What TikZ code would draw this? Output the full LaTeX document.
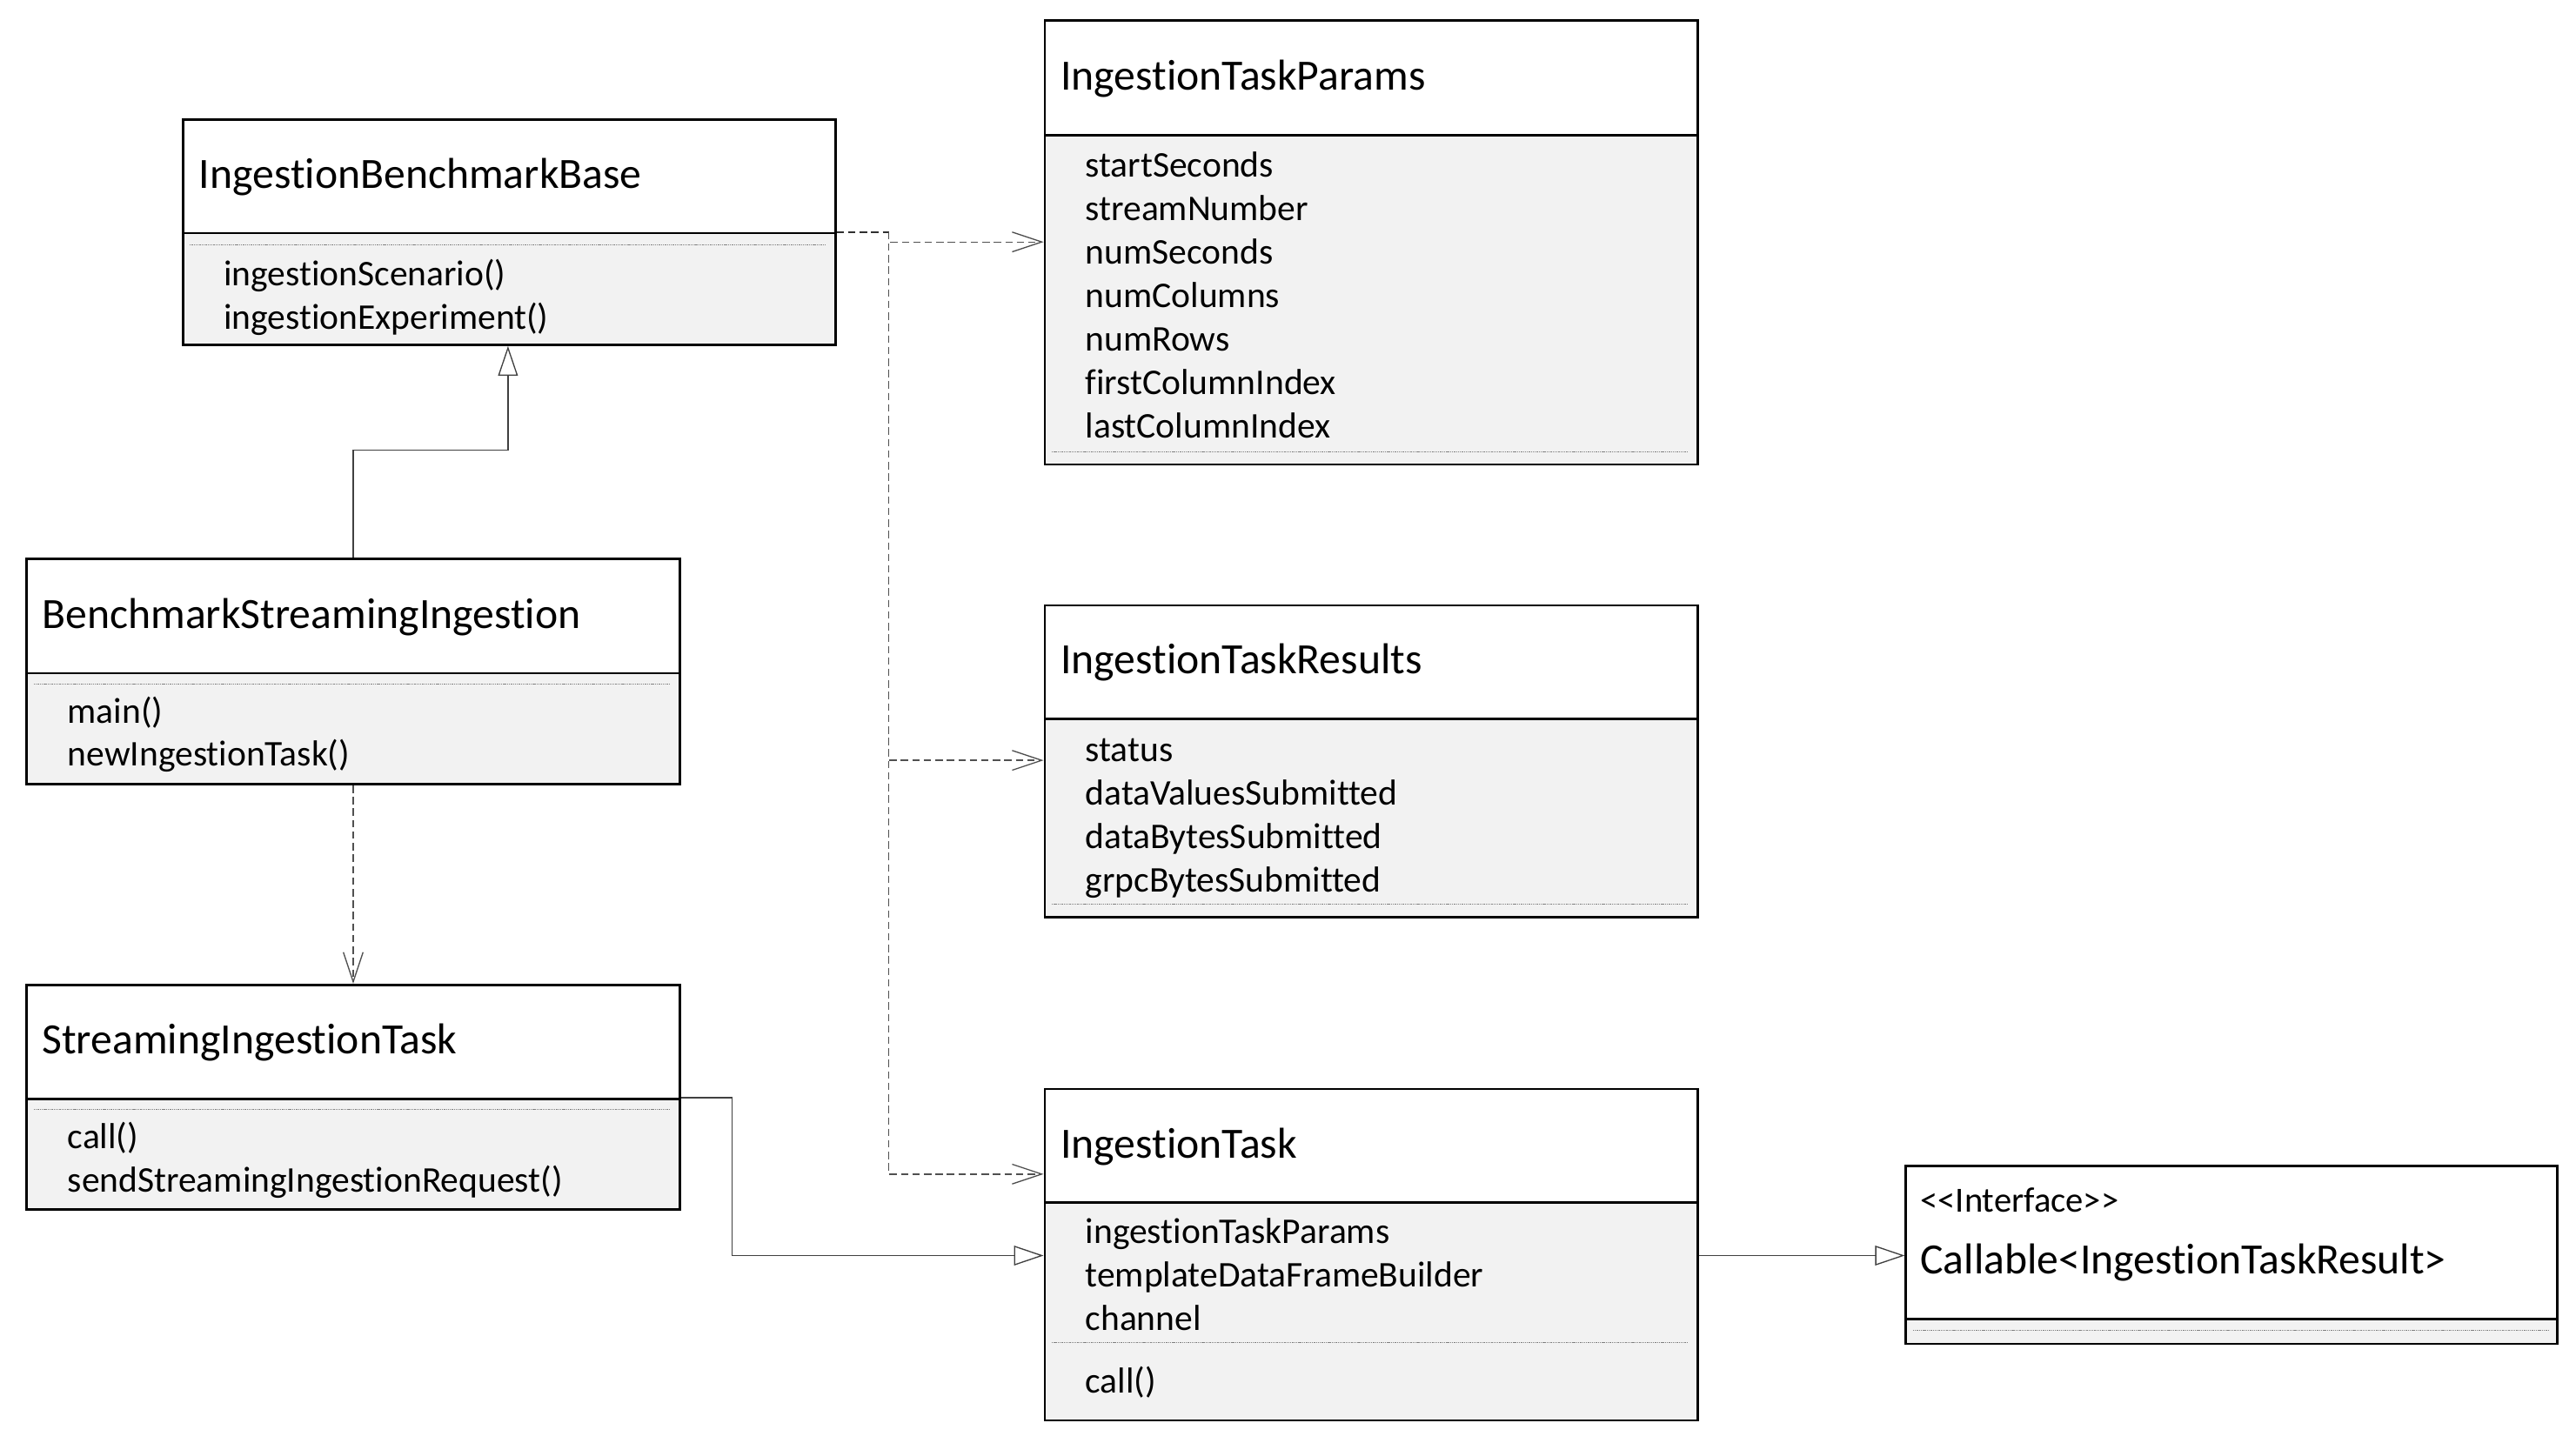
\documentclass[tikz,border=0pt]{standalone}
\usepackage{fontspec}
\setmainfont{Carlito}[Ligatures={NoCommon}]
\usetikzlibrary{arrows.meta}
\definecolor{bodyfill}{HTML}{F2F2F2}
\definecolor{conn}{HTML}{404040}
\definecolor{dconn}{HTML}{505050}
\tikzset{
  hdr/.style={draw=black, line width=1.5pt, fill=white, inner sep=0pt, anchor=north west, minimum width=397.3pt},
  bdy/.style={draw=black, line width=1.5pt, fill=bodyfill, inner sep=0pt, anchor=north west, minimum width=397.3pt},
  ttl/.style={anchor=mid west, inner sep=0pt, yshift=-5.5pt, font=\fontsize{26.3}{30}\selectfont},
  itm/.style={anchor=mid west, inner sep=0pt, yshift=-5.5pt, font=\fontsize{22}{26}\selectfont},
  stereo/.style={anchor=mid west, inner sep=0pt, yshift=-4.5pt, font=\fontsize{21.5}{24}\selectfont},
  dotsep/.style={draw=gray, line width=0.4pt, dash pattern=on 0.7pt off 0.5pt},
  gen/.style={draw=conn, line width=0.7pt, -{Triangle[open, fill=white, length=18pt, width=12pt]}},
  dep/.style={draw=dconn, line width=0.7pt, dash pattern=on 4.5pt off 2.5pt, -{Straight Barb[length=18pt, width=12pt]}},
  depline/.style={draw=dconn!60!black, line width=1pt, dash pattern=on 4.5pt off 2.5pt},
}
\begin{document}
\begin{tikzpicture}[x=1pt,y=-1pt]
\useasboundingbox (0,0) rectangle (1568,878);
\fill[white] (0,0) rectangle (1568,878);

% IngestionBenchmarkBase
\node[hdr, minimum height=69.2pt] (AH) at (110.5,72) {};
\node[bdy, minimum height=68pt] (A) at (110.5,141.2) {};
\node[ttl] (tA) at (121,107) {IngestionBenchmarkBase};
\draw[dotsep] (115.5,149) -- (503,149);
\node[itm] (a1) at (136,165.9) {ingestionScenario()};
\node[itm] (a2) at (136,192.4) {ingestionExperiment()};

% IngestionTaskParams
\node[hdr, minimum height=69.9pt] (BH) at (635.2,11.8) {};
\node[bdy, minimum height=200.3pt] (B) at (635.2,81.7) {};
\node[ttl] (tB) at (645.5,46.7) {IngestionTaskParams};
\node[itm] (b1) at (660.5,99.8) {startSeconds};
\node[itm] (b2) at (660.5,126.3) {streamNumber};
\node[itm] (b3) at (660.5,152.8) {numSeconds};
\node[itm] (b4) at (660.5,179.3) {numColumns};
\node[itm] (b5) at (660.5,205.8) {numRows};
\node[itm] (b6) at (660.5,232.3) {firstColumnIndex};
\node[itm] (b7) at (660.5,258.8) {lastColumnIndex};
\draw[dotsep] (640.2,275) -- (1027.5,275);

% IngestionTaskResults
\node[hdr, minimum height=68.9pt] (CH) at (635.2,367.8) {};
\node[bdy, minimum height=120.8pt] (C) at (635.2,436.7) {};
\node[ttl] (tC) at (645.5,402.5) {IngestionTaskResults};
\node[itm] (c1) at (660.5,455.5) {status};
\node[itm] (c2) at (660.5,482) {dataValuesSubmitted};
\node[itm] (c3) at (660.5,508.5) {dataBytesSubmitted};
\node[itm] (c4) at (660.5,535) {grpcBytesSubmitted};
\draw[dotsep] (640.2,550.2) -- (1027.5,550.2);

% BenchmarkStreamingIngestion
\node[hdr, minimum height=69.7pt] (DH) at (15.6,339.4) {};
\node[bdy, minimum height=67.6pt] (D) at (15.6,409.1) {};
\node[ttl] (tD) at (25.5,374.5) {BenchmarkStreamingIngestion};
\draw[dotsep] (20.6,416.4) -- (407.9,416.4);
\node[itm] (d1) at (41,432.3) {main()};
\node[itm] (d2) at (41,458.6) {newIngestionTask()};

% StreamingIngestionTask
\node[hdr, minimum height=69.4pt] (EH) at (15.6,598.8) {};
\node[bdy, minimum height=67.5pt] (E) at (15.6,668.2) {};
\node[ttl] (tE) at (25.5,633.5) {StreamingIngestionTask};
\draw[dotsep] (20.6,675.3) -- (407.9,675.3);
\node[itm] (e1) at (41,691.5) {call()};
\node[itm] (e2) at (41,718) {sendStreamingIngestionRequest()};

% IngestionTask
\node[hdr, minimum height=69.3pt] (FH) at (635.2,662.2) {};
\node[bdy, minimum height=132.5pt] (F) at (635.2,731.5) {};
\node[ttl] (tF) at (645.5,697) {IngestionTask};
\node[itm] (f1) at (660.5,749.2) {ingestionTaskParams};
\node[itm] (f2) at (660.5,775.7) {templateDataFrameBuilder};
\node[itm] (f3) at (660.5,802.2) {channel};
\draw[dotsep] (640.2,817.5) -- (1027.5,817.5);
\node[itm] (f4) at (660.5,840) {call()};

% Callable
\node[hdr, minimum height=93.4pt, minimum width=396.6pt] (GH) at (1159.4,709) {};
\node[bdy, minimum height=15pt, minimum width=396.6pt] (G) at (1159.4,802.4) {};
\node[stereo] (g1) at (1168.7,731) {{<}{<}Interface{>}{>}};
\node[ttl] (g2) at (1168.7,767.5) {Callable{<}IngestionTaskResult{>}};
\draw[dotsep] (1164.4,809.8) -- (1551,809.8);

% connectors
\coordinate (kA) at (309.2,274.2);
\draw[gen] (DH.north) |- (kA) -- (kA |- A.south);
\draw[dep] (D.south) -- (EH.north);

\coordinate (jA) at (541,141.2);
\draw[depline] (A.north east) -- (jA);
\draw[dep] (jA) |- ([yshift=-65.6pt]B.north west);
\draw[dep] (jA) |- ([yshift=-26.2pt]C.north west);
\draw[dep] (jA) |- ([yshift=-52.6pt]FH.north west);

\coordinate (jE) at (445.6,668.2);
\draw[gen] (E.north east) -- (jE) |- ([yshift=-32.9pt]F.north west);
\draw[gen] ([yshift=-32.9pt]F.north east) -- ([yshift=-55.4pt]GH.north west);
\end{tikzpicture}
\end{document}
